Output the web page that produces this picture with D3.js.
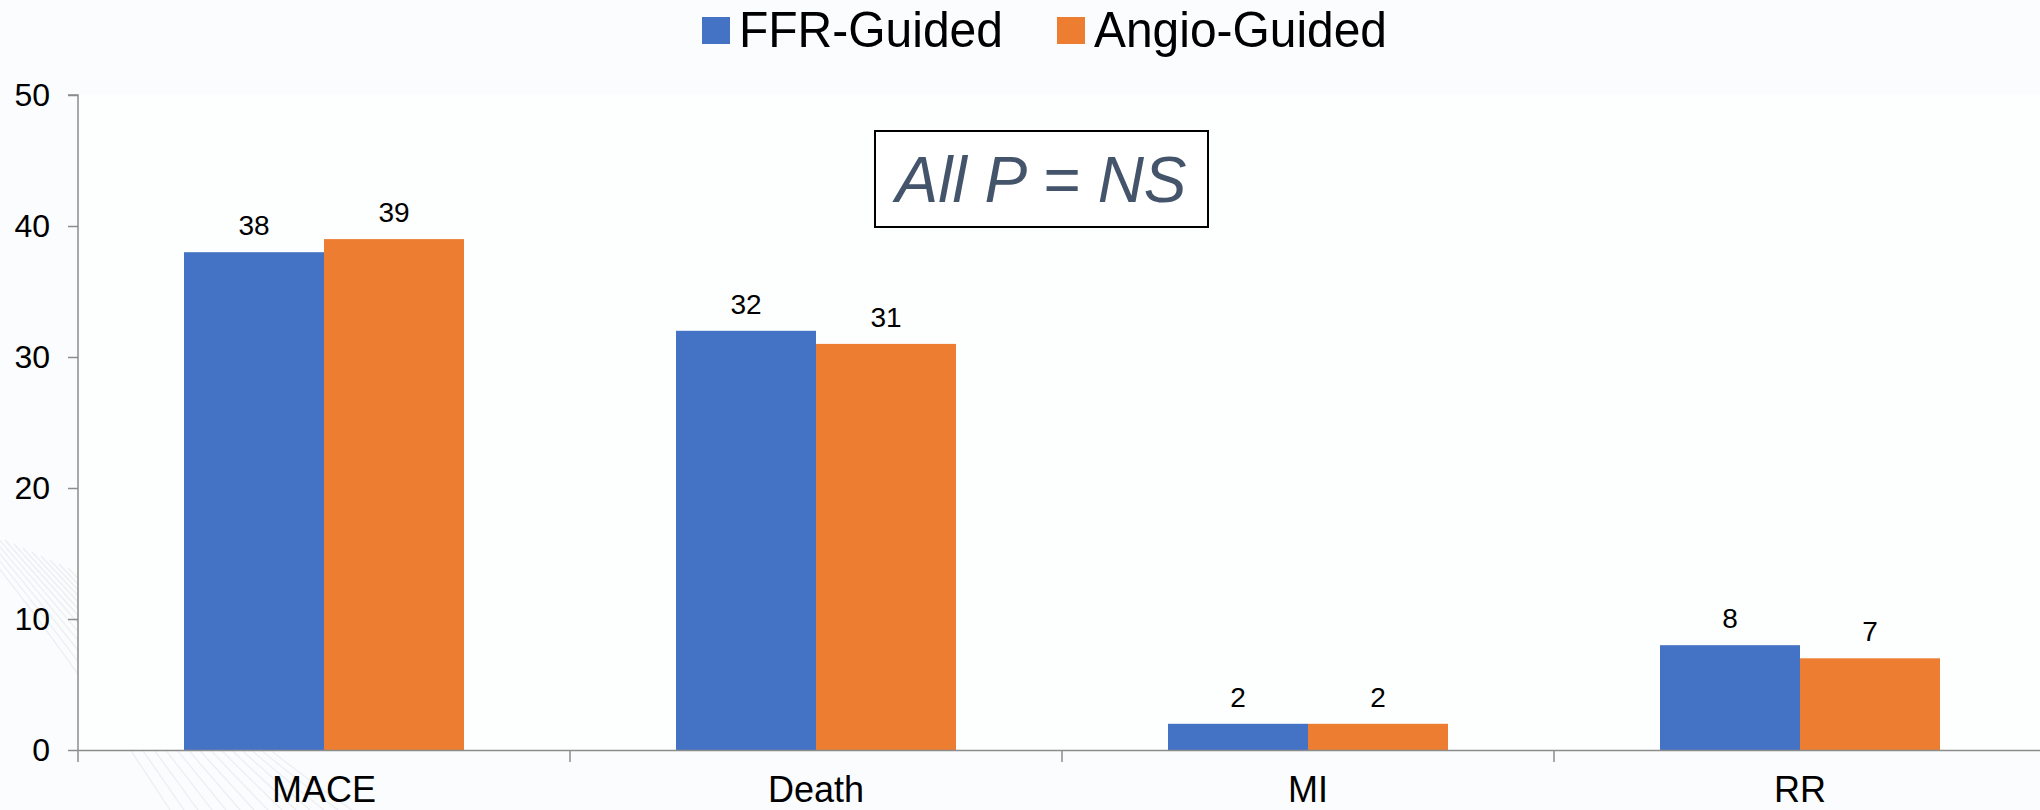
<!DOCTYPE html>
<html>
<head>
<meta charset="utf-8">
<script src="https://cdn.jsdelivr.net/npm/d3@7"></script>
<style>
  html, body { margin: 0; padding: 0; background: #fafcfd; }
  svg { display: block; font-family: Arial, "Liberation Sans", sans-serif; }
</style>
</head>
<body>
<svg id="chart" width="2040" height="810"></svg>
<script>
const categories = ["MACE", "Death", "MI", "RR"];
const seriesNames = ["FFR-Guided", "Angio-Guided"];
const ffrValues = [38, 32, 2, 8];
const angioValues = [39, 31, 2, 7];
const yTicks = [0, 10, 20, 30, 40, 50];
const annotation = "All P = NS";

const colors = ["#4472C4", "#ED7D31"];
const W = 2040, H = 810;
const svg = d3.select("#chart");

// background texture (subtle) bottom-left
const bg = svg.append("g");
bg.append("rect").attr("width", W).attr("height", H).attr("fill", "#fafcfd");
const tex = bg.append("g").attr("stroke", "#e8ecef").attr("fill", "none").attr("stroke-width", 1.2).attr("opacity", 0.8);
for (let i = 0; i < 14; i++) {
  tex.append("path").attr("d", `M${-40 + i * 9},${520 + i * 4} Q${60 + i * 12},${640 + i * 6} ${170 + i * 14},${810}`);
}

const x0 = 78, band = 492;
const yBase = 750, yTop = 95;

const x = d3.scaleBand().domain(categories).range([x0, x0 + band * categories.length]).paddingInner(0).paddingOuter(0);
const groupFrac = 280 / 492;
const x1 = d3.scaleBand().domain(seriesNames)
  .range([(band - band * groupFrac) / 2, (band + band * groupFrac) / 2]).padding(0);
const y = d3.scaleLinear().domain([0, 50]).range([yBase, yTop]);

// plot area (whiter)
svg.append("rect").attr("x", x0).attr("y", yTop).attr("width", W - x0).attr("height", yBase - yTop).attr("fill", "#fdfefe");

// bars
const data = categories.map((c, i) => ({ cat: c, vals: [ffrValues[i], angioValues[i]] }));
const groups = svg.append("g").selectAll("g").data(data).join("g")
  .attr("transform", d => `translate(${x(d.cat)},0)`);
groups.selectAll("rect").data(d => d.vals.map((v, j) => ({ v, s: seriesNames[j], j })))
  .join("rect")
  .attr("x", d => x1(d.s))
  .attr("width", x1.bandwidth())
  .attr("y", d => y(d.v))
  .attr("height", d => yBase - y(d.v))
  .attr("fill", d => colors[d.j]);
groups.selectAll("text").data(d => d.vals.map((v, j) => ({ v, s: seriesNames[j], j })))
  .join("text")
  .attr("x", d => x1(d.s) + x1.bandwidth() / 2)
  .attr("y", d => y(d.v) - 17)
  .attr("text-anchor", "middle")
  .attr("font-size", 28)
  .attr("fill", "#000")
  .text(d => d.v);

// y axis
const yAxis = d3.axisLeft(y).tickValues(yTicks).tickSize(10).tickPadding(18).tickFormat(d3.format("d"));
const gy = svg.append("g").attr("transform", `translate(${x0},0)`).call(yAxis);
gy.select(".domain").attr("stroke", "#8c8c8c").attr("stroke-width", 1.5).attr("d", `M-10,${yTop}H0V${yBase + 12}`);
gy.selectAll(".tick line").attr("stroke", "#8c8c8c").attr("stroke-width", 1.5);
gy.selectAll(".tick text").attr("font-size", 32).attr("fill", "#000").attr("font-family", "Arial, 'Liberation Sans', sans-serif");

// x axis
const xAxis = d3.axisBottom(x).tickSize(0).tickPadding(0);
const gx = svg.append("g").attr("transform", `translate(0,${yBase})`).call(xAxis);
gx.select(".domain").attr("stroke", "#8c8c8c").attr("stroke-width", 1.5);
gx.selectAll(".tick text").attr("font-size", 36).attr("fill", "#000")
  .attr("font-family", "Arial, 'Liberation Sans', sans-serif")
  .attr("dy", null).attr("y", 52);
// category separators
svg.append("g").selectAll("line").data(categories.slice(1)).join("line")
  .attr("x1", d => x(d)).attr("x2", d => x(d))
  .attr("y1", yBase).attr("y2", yBase + 12)
  .attr("stroke", "#8c8c8c").attr("stroke-width", 1.5);

// legend
const legend = svg.append("g");
const legX = [702, 1057];
seriesNames.forEach((s, i) => {
  legend.append("rect").attr("x", legX[i]).attr("y", 17).attr("width", 28).attr("height", 27).attr("fill", colors[i]);
  legend.append("text").attr("x", legX[i] + 37).attr("y", 47)
    .attr("font-size", 50).attr("fill", "#000")
    .attr("textLength", i === 0 ? 264 : 293).attr("lengthAdjust", "spacingAndGlyphs")
    .text(s);
});

// annotation box
const ann = svg.append("g");
ann.append("rect").attr("x", 875).attr("y", 131).attr("width", 333).attr("height", 96)
  .attr("fill", "#ffffff").attr("stroke", "#000").attr("stroke-width", 2);
ann.append("text").attr("x", 1041).attr("y", 202).attr("text-anchor", "middle")
  .attr("font-size", 64).attr("font-style", "italic").attr("fill", "#44546A")
  .text(annotation);
</script>
</body>
</html>
